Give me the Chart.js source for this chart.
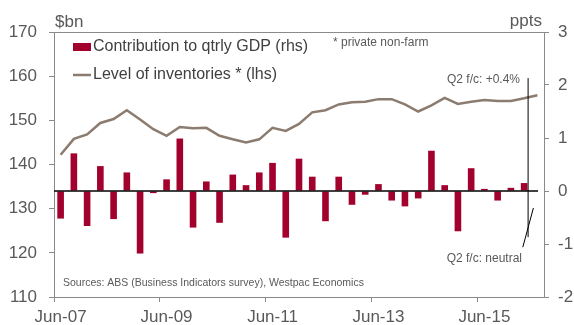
<!DOCTYPE html>
<html><head><meta charset="utf-8">
<script src="https://cdn.jsdelivr.net/npm/chart.js@4/dist/chart.umd.min.js"></script>
<style>html,body{margin:0;padding:0;background:#fff}#wrap{width:574px;height:325px;position:relative}canvas{display:block}</style>
</head><body><div id="wrap"><canvas id="c" width="574" height="325" style="width:574px;height:325px"></canvas></div>
<script>
// Quarterly slots: index 0 = Jun-07 ... 35 = Mar-16, 36 = Jun-16 (forecast)
const tickLabels = ['Jun-07','Jun-09','Jun-11','Jun-13','Jun-15'];
const tickPositions = [0, 8, 16, 24, 32];
// Contribution to quarterly GDP (ppts, rhs)
const contribution = [-0.52, 0.71, -0.66, 0.47, -0.53, 0.35, -1.18, -0.04, 0.22, 0.99,
  -0.69, 0.18, -0.60, 0.31, 0.11, 0.35, 0.53, -0.88, 0.61, 0.27,
  -0.57, 0.27, -0.26, -0.07, 0.13, -0.18, -0.29, -0.14, 0.76, 0.11,
  -0.76, 0.43, 0.04, -0.18, 0.06, 0.15];
// Level of inventories ($bn, lhs), last point = Q2 forecast
const inventories = [142.2, 145.8, 146.8, 149.4, 150.3, 152.3, 150.2, 148.0, 146.5, 148.5,
  148.2, 148.3, 146.5, 145.7, 145.0, 145.7, 148.3, 147.6, 149.2, 151.8,
  152.3, 153.6, 154.1, 154.2, 154.8, 154.8, 153.6, 152.0, 153.4, 155.1,
  153.7, 154.2, 154.6, 154.4, 154.4, 155.0, 155.7];
const leftTicks = {min: 110, max: 170, step: 10};
const rightTicks = {min: -2, max: 3, step: 1};
// forecast pointer lines (x in quarter slots, y in ppts)
const pointerLines = [
  {x1: 35.8, y1: 2.13, x2: 35.8, y2: -0.87},
  {x1: 36.2, y1: -0.32, x2: 35.4, y2: -1.06}
];

const BAR = 'rgb(162,0,45)';
const LINE = '#8C7B6F';
const AXIS = '#8a8a8a';
const TXT = '#595959';
const FONT = "'Liberation Sans', Arial, sans-serif";

const overlay = {
  id: 'overlay',
  afterDatasetsDraw(chart) {
    const {ctx, chartArea: a, scales} = chart;
    const x = scales.x, yR = scales.yR;
    ctx.save();
    // top border
    ctx.strokeStyle = AXIS; ctx.lineWidth = 1;
    ctx.beginPath(); ctx.moveTo(a.left, a.top + 0.5); ctx.lineTo(a.right, a.top + 0.5); ctx.stroke();
    // zero line
    const y0 = yR.getPixelForValue(0);
    ctx.strokeStyle = '#000'; ctx.lineWidth = 1.5;
    ctx.beginPath(); ctx.moveTo(a.left, y0); ctx.lineTo(a.right - 6, y0); ctx.stroke();
    // pointer lines
    ctx.lineWidth = 1;
    pointerLines.forEach(l => {
      ctx.beginPath();
      ctx.moveTo(x.getPixelForValue(l.x1), yR.getPixelForValue(l.y1));
      ctx.lineTo(x.getPixelForValue(l.x2), yR.getPixelForValue(l.y2));
      ctx.stroke();
    });
    // texts
    ctx.fillStyle = TXT; ctx.textBaseline = 'middle';
    ctx.font = '17px ' + FONT;
    ctx.textAlign = 'left'; ctx.fillText('$bn', 55, 22);
    ctx.textAlign = 'right'; ctx.fillText('ppts', 542, 21);
    ctx.font = '12px ' + FONT;
    ctx.textAlign = 'left'; ctx.fillText('* private non-farm', 333, 43);
    ctx.textAlign = 'right';
    ctx.fillText('Q2 f/c: +0.4%', 520, 80);
    ctx.fillText('Q2 f/c: neutral', 522, 259);
    ctx.font = '10.5px ' + FONT;
    ctx.textAlign = 'left';
    ctx.fillText('Sources: ABS (Business Indicators survey), Westpac Economics', 63, 283);
    // legend
    ctx.fillStyle = BAR; ctx.fillRect(73, 43, 18, 8);
    ctx.strokeStyle = LINE; ctx.lineWidth = 2.5;
    ctx.beginPath(); ctx.moveTo(73, 75); ctx.lineTo(91, 75); ctx.stroke();
    ctx.fillStyle = '#404040'; ctx.font = '16px ' + FONT;
    ctx.fillText('Contribution to qtrly GDP (rhs)', 93, 47);
    ctx.fillText('Level of inventories * (lhs)', 93, 75);
    ctx.restore();
  }
};

new Chart(document.getElementById('c'), {
  data: {
    datasets: [
      {type: 'line', label: 'Level of inventories * (lhs)', yAxisID: 'yL',
        data: inventories.map((v, i) => ({x: i + 0.5, y: v})),
        borderColor: LINE, borderWidth: 2.5, pointRadius: 0, tension: 0, order: 0},
      {type: 'bar', label: 'Contribution to qtrly GDP (rhs)', yAxisID: 'yR',
        data: contribution.map((v, i) => ({x: i + 0.5, y: v})),
        backgroundColor: BAR, barPercentage: 0.5, categoryPercentage: 1, order: 1}
    ]
  },
  options: {
    responsive: false, animation: false, devicePixelRatio: 1,
    layout: {padding: {top: 32, left: 0, right: 0, bottom: 0}},
    plugins: {legend: {display: false}, tooltip: {enabled: false}},
    scales: {
      x: {type: 'linear', min: 0, max: 37, position: 'bottom', offset: false, bounds: 'ticks',
        afterBuildTicks: s => { s.ticks = tickPositions.map(v => ({value: v})); },
        afterFit: s => { s.height = 28; },
        ticks: {callback: v => tickLabels[tickPositions.indexOf(v)] || '', labelOffset: 6.6,
          autoSkip: false, maxRotation: 0, padding: 5, color: TXT, font: {size: 17, family: FONT}},
        grid: {drawOnChartArea: false, tickLength: 5, color: AXIS, offset: false},
        border: {color: AXIS}},
      yL: {position: 'left', min: leftTicks.min, max: leftTicks.max,
        afterFit: s => { s.width = 54; },
        ticks: {stepSize: leftTicks.step, padding: 12, color: TXT, font: {size: 17, family: FONT}},
        grid: {drawOnChartArea: false, tickLength: 5, color: AXIS},
        border: {color: AXIS}},
      yR: {position: 'right', min: rightTicks.min, max: rightTicks.max,
        afterFit: s => { s.width = 30; },
        ticks: {stepSize: rightTicks.step, padding: 9, color: TXT, font: {size: 17, family: FONT}},
        grid: {drawOnChartArea: false, tickLength: 5, color: AXIS},
        border: {color: AXIS}}
    }
  },
  plugins: [overlay]
});
</script></body></html>
